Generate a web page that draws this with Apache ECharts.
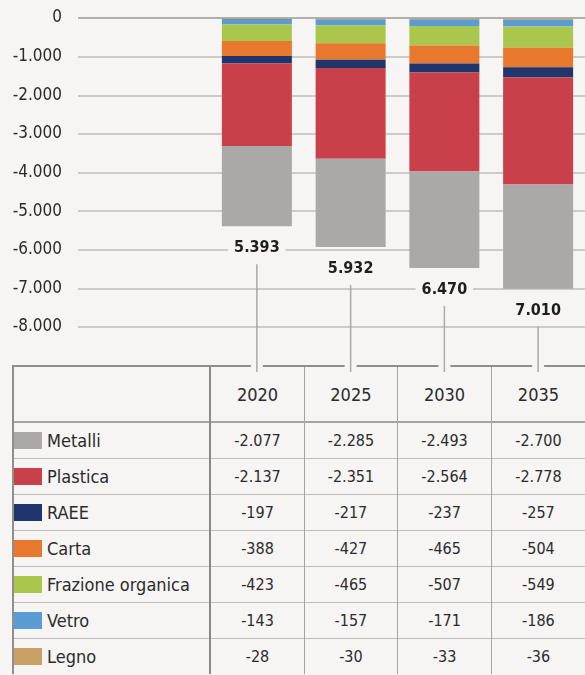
<!DOCTYPE html>
<html>
<head>
<meta charset="utf-8">
<script src="https://cdn.jsdelivr.net/npm/echarts@6/dist/echarts.min.js"></script>
<style>
  body { margin:0; background:#f6f5f3; width:585px; height:675px; overflow:hidden; position:relative;
         font-family:"Liberation Sans Narrow","DejaVu Sans Condensed","Liberation Sans",sans-serif; }
  #chart { position:absolute; left:0; top:0; width:585px; height:380px; z-index:2; pointer-events:none; }
  #tbl { position:absolute; left:12px; top:365px; border-collapse:collapse; table-layout:fixed; color:#2b2b2b; }
  #tbl td { padding:0; text-align:center; font-size:16px; border-top:1.5px solid #bdbdbd; border-left:1.5px solid #a3a3a3; }
  #tbl tr:first-child td { border-top:2px solid #8e8e8e; height:54px; font-size:18px; }
  #tbl tr:nth-child(2) td { border-top:2.5px solid #a5a5a5; }
  #tbl td.name { text-align:left; font-size:18px; border-left:2px solid #8e8e8e; border-right:2px solid #8a8a8a; white-space:nowrap; }
  #tbl tr.row td { height:35px; }
  .sw { display:inline-block; width:28px; height:17px; vertical-align:-2px; margin-right:5px; }
</style>
</head>
<body>
<div id="chart"></div>
<table id="tbl"></table>
<script>
/* dati (tonnellate, valori negativi = emissioni evitate) */
var categories = ['2020', '2025', '2030', '2035'];
var metalli  = [-2077, -2285, -2493, -2700];
var plastica = [-2137, -2351, -2564, -2778];
var raee     = [-197, -217, -237, -257];
var carta    = [-388, -427, -465, -504];
var frazione = [-423, -465, -507, -549];
var vetro    = [-143, -157, -171, -186];
var legno    = [-28, -30, -33, -36];

var bg = '#f6f5f3';

// ordine della tabella (dall'alto)
var rows = [
    {name:'Metalli', data:metalli, color:'#aaa9a7'},
    {name:'Plastica', data:plastica, color:'#c9404a'},
    {name:'RAEE', data:raee, color:'#1f356b'},
    {name:'Carta', data:carta, color:'#e9782f'},
    {name:'Frazione organica', data:frazione, color:'#a9c64d'},
    {name:'Vetro', data:vetro, color:'#5b9bd3'},
    {name:'Legno', data:legno, color:'#c9a065'}
];

var totals = categories.map(function(c, i){
    var s = 0;
    rows.forEach(function(r){ s += r.data[i]; });
    return s;
});

function fmt(v){
    var s = Math.abs(v).toString().replace(/\B(?=(\d{3})+(?!\d))/g, '.');
    return (v < 0 ? '-' : '') + s;
}

/*		tabella		*/
var html = '<colgroup><col style="width:198px"><col style="width:95px"><col style="width:95px"><col style="width:95px"><col style="width:95px"></colgroup>';
html += '<tr><td class="name"></td>';
categories.forEach(function(c){ html += '<td>' + c + '</td>'; });
html += '</tr>';
rows.forEach(function(r){
    html += '<tr class="row"><td class="name"><span class="sw" style="background:' + r.color + '"></span>' + r.name + '</td>';
    r.data.forEach(function(v){ html += '<td>' + fmt(v) + '</td>'; });
    html += '</tr>';
});
document.getElementById('tbl').innerHTML = html;

/*		grafico		*/
var font = '"Liberation Sans Narrow","DejaVu Sans Condensed",sans-serif';
var stackOrder = rows.slice().reverse();   // Legno vicino allo zero, Metalli in fondo
var series = stackOrder.map(function(r, k){
    var s = {
        name: r.name,
        type: 'bar',
        stack: 'tot',
        xAxisIndex: 1,
        yAxisIndex: 1,
        barWidth: 70,
        itemStyle: {color: r.color},
        data: r.data
    };
    if (r.name == 'Metalli') {
        s.label = {
            show: true,
            position: 'bottom',
            distance: 12,
            fontFamily: font,
            fontWeight: 'bold',
            fontSize: 16,
            color: '#1e1e1e',
            backgroundColor: bg,
            padding: [2, 6],
            formatter: function(p){ return fmt(-totals[p.dataIndex]); }
        };
    }
    return s;
});

series.push({
    type: 'custom',
    xAxisIndex: 1,
    yAxisIndex: 1,
    clip: false,
    silent: true,
    z: 1,
    data: totals.map(function(t, i){ return [i, t]; }),
    renderItem: function(params, api){
        var p = api.coord([api.value(0), api.value(1)]);
        var yEnd = params.coordSys.y + params.coordSys.height + 45;
        return {
            type: 'group',
            children: [
                {type:'rect', shape:{x:p[0] - 6, y:yEnd - 10, width:12, height:7}, style:{fill:bg}},
                {type:'line', shape:{x1:p[0], y1:p[1] + 38, x2:p[0], y2:yEnd}, style:{stroke:'#a9a9a9', lineWidth:1.5}}
            ]
        };
    }
});

var option = {
    animation: false,
    grid: [
        {left: 78, right: 0, top: 18, height: 309},
        {left: 210, width: 380, top: 18, height: 309}
    ],
    xAxis: [
        {type: 'value', gridIndex: 0, show: false},
        {type: 'category', gridIndex: 1, data: categories, show: false}
    ],
    yAxis: [
        {
            type: 'value', gridIndex: 0, min: -8000, max: 0, interval: 1000,
            axisLine: {show: false},
            axisTick: {show: false},
            axisLabel: {
                margin: 16,
                fontFamily: font,
                fontSize: 17,
                color: '#2a2a2a',
                formatter: function(v){ return fmt(v); }
            },
            splitLine: {
                lineStyle: {
                    color: ['#bdbdbd', '#bdbdbd', '#bdbdbd', '#bdbdbd', '#bdbdbd', '#bdbdbd', '#bdbdbd', '#bdbdbd', '#999999'],
                    width: 1.5
                }
            }
        },
        {type: 'value', gridIndex: 1, min: -8000, max: 0, interval: 1000, show: false}
    ],
    series: series
};

var chart = echarts.init(document.getElementById('chart'), null, {renderer: 'canvas'});
chart.setOption(option);
</script>
</body>
</html>
